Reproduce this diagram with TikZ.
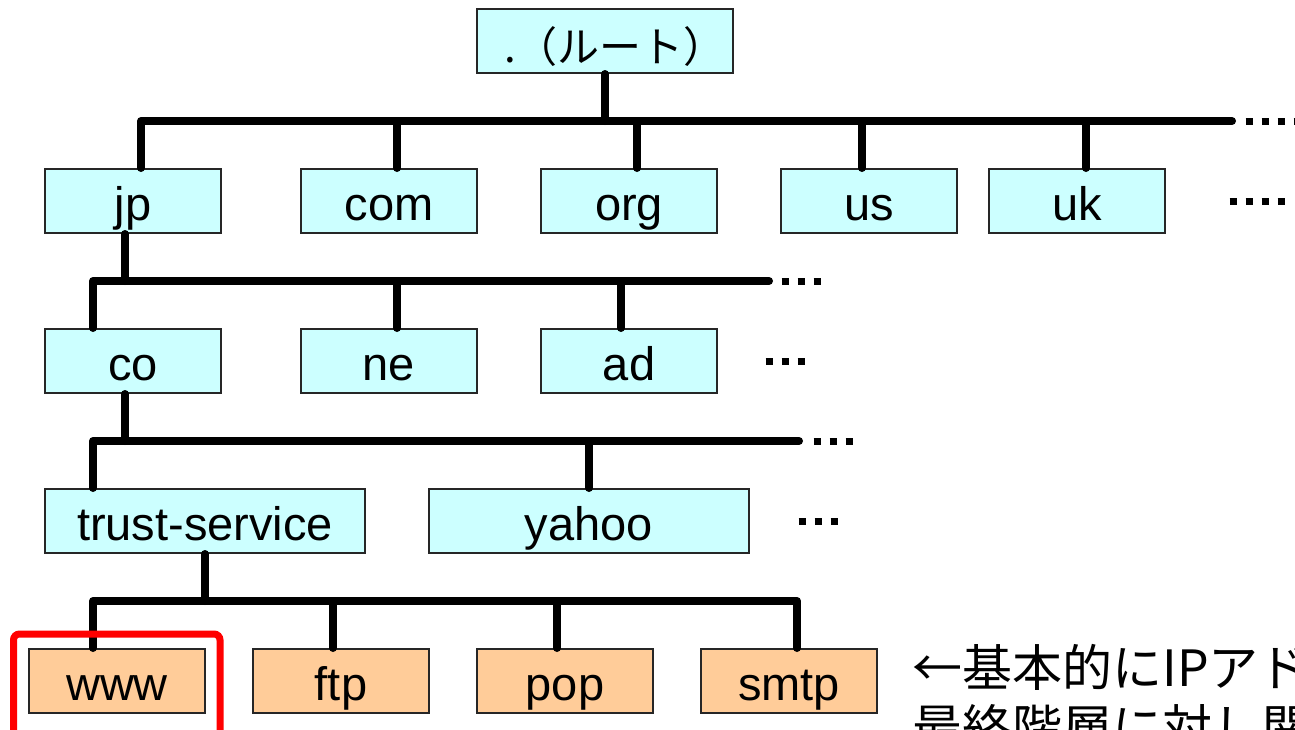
\documentclass[tikz,border=0pt]{standalone}
\usepackage{fontspec}
\setmainfont{Liberation Sans}
\newfontfamily\jpfont{Noto Sans CJK JP}
\definecolor{cyanbox}{HTML}{CCFFFF}
\definecolor{orangebox}{HTML}{FFCC99}
\definecolor{hilite}{HTML}{FF0000}
\begin{document}
\begin{tikzpicture}[x=0.5pt,y=-0.5pt,
  box/.style={draw=black!85, line width=1pt, minimum width=88pt, minimum height=32pt,
    inner sep=0pt, font=\fontsize{23.5}{28}\selectfont, text height=19pt, text depth=0pt},
  bluebox/.style={box, fill=cyanbox},
  orangenode/.style={box, fill=orangebox},
  widebox/.style={bluebox, minimum width=160pt},
  wire/.style={line width=4pt, line cap=round, line join=round},
  dotrow/.style={line width=3.5pt, dash pattern=on 3.5pt off 4.5pt},
  note/.style={anchor=base west, inner sep=0pt, font=\jpfont\fontsize{25}{27}\selectfont}]
\useasboundingbox (0,0) rectangle (1295,729);
\clip (0,0) rectangle (1295,729);

% nodes
\node[bluebox, minimum width=128pt, font=\jpfont\fontsize{21}{25}\selectfont, text height=21pt] (root) at (605,41)
  {\hspace{10pt}.（ルート）};
\node[bluebox] (jp)  at (133,201) {jp};
\node[bluebox] (com) at (389,201) {com};
\node[bluebox] (org) at (629,201) {org};
\node[bluebox] (us)  at (869,201) {us};
\node[bluebox] (uk)  at (1077,201) {uk};
\node[bluebox] (co)  at (133,361) {co};
\node[bluebox] (ne)  at (389,361) {ne};
\node[bluebox] (ad)  at (629,361) {ad};
\node[widebox] (trust) at (205,521) {trust-service};
\node[widebox] (yahoo) at (589,521) {yahoo};
\node[orangenode] (www)  at (117,681) {www};
\node[orangenode] (ftp)  at (341,681) {ftp};
\node[orangenode] (pop)  at (565,681) {pop};
\node[orangenode] (smtp) at (789,681) {smtp};

% bus coordinates
\coordinate (b1) at (141,121);  \coordinate (b1end) at (1232,121);
\coordinate (d-com) at (397,121); \coordinate (d-org) at (637,121);
\coordinate (d-us) at (862,121);  \coordinate (d-uk) at (1086,121);
\coordinate (j2) at (125,281); \coordinate (b2) at (93,281); \coordinate (b2end) at (769,281);
\coordinate (d-ne) at (397,281); \coordinate (d-ad) at (621,281);
\coordinate (c3) at (125,441); \coordinate (b3) at (93,441); \coordinate (b3end) at (799,441);
\coordinate (d-yahoo) at (589,441);
\coordinate (t4) at (205,601); \coordinate (b4) at (93,601); \coordinate (b4end) at (797,601);
\coordinate (d-ftp) at (333,601); \coordinate (d-pop) at (557,601);

% connectors
\draw[wire] (root.south) -- (root.south |- b1);
\draw[wire] (jp.north -| b1) -- (b1) -- (b1end);
\draw[wire] (d-com) -- (d-com |- com.north);
\draw[wire] (d-org) -- (d-org |- org.north);
\draw[wire] (d-us) -- (d-us |- us.north);
\draw[wire] (d-uk) -- (d-uk |- uk.north);

\draw[wire] (jp.south -| j2) -- (j2);
\draw[wire] (co.north -| b2) -- (b2) -- (b2end);
\draw[wire] (d-ne) -- (d-ne |- ne.north);
\draw[wire] (d-ad) -- (d-ad |- ad.north);

\draw[wire] (co.south -| c3) -- (c3);
\draw[wire] (trust.north -| b3) -- (b3) -- (b3end);
\draw[wire] (d-yahoo) -- (d-yahoo |- yahoo.north);

\draw[wire] (trust.south -| t4) -- (t4);
\draw[wire] (www.north -| b4) -- (b4) -- (b4end) -- (smtp.north -| b4end);
\draw[wire] (d-ftp) -- (d-ftp |- ftp.north);
\draw[wire] (d-pop) -- (d-pop |- pop.north);

% continuation dots
\draw[dotrow] (1245.5,121) -- (1300,121);
\draw[dotrow] (1229.5,201) -- (1285,201);
\draw[dotrow] (781.5,281) -- (821,281);
\draw[dotrow] (765.5,361) -- (805,361);
\draw[dotrow] (813.5,441) -- (853,441);
\draw[dotrow] (798.5,521) -- (838,521);

% highlight
\draw[hilite, line width=3.5pt, rounded corners=3pt] (13.5,634) rectangle (220,770);

% note
\node[note] (note1) at (912,686) {←基本的にIPアド};
\node[note] (note2) at (912,746) {最終階層に対し関};
\end{tikzpicture}
\end{document}
